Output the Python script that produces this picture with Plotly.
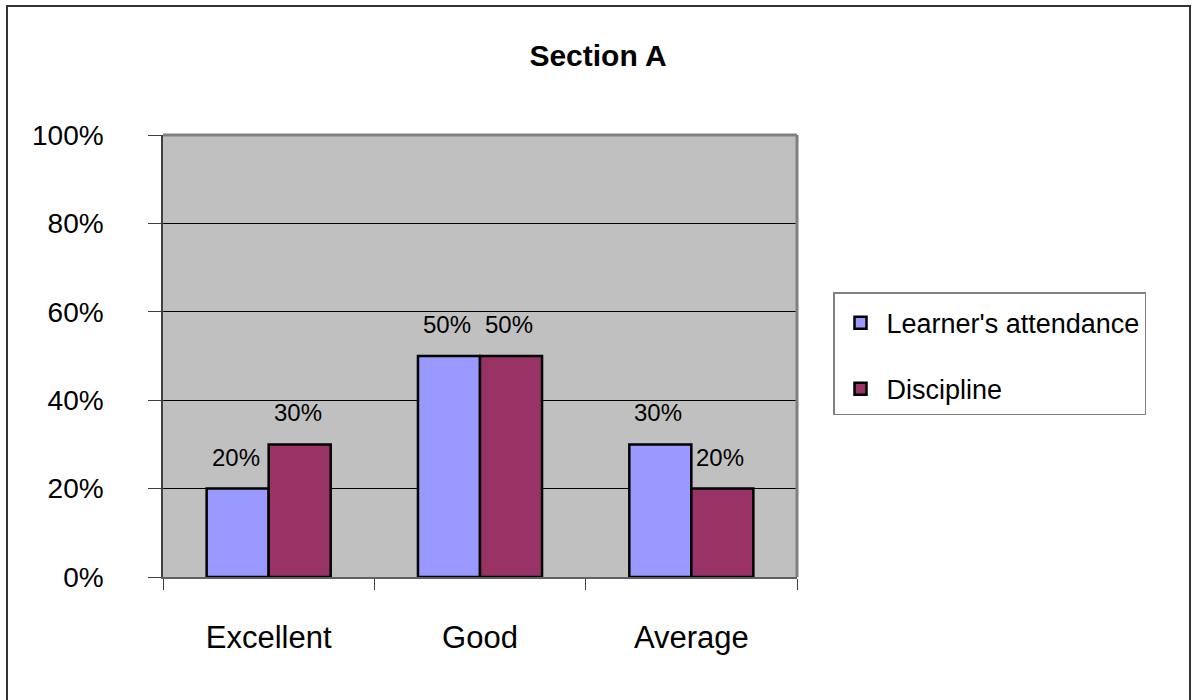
import plotly.graph_objects as go

categories = ["Excellent", "Good", "Average"]
attendance = [0.20, 0.50, 0.30]
discipline = [0.30, 0.50, 0.20]
series_names = ["Learner's attendance", "Discipline"]
y_ticks = [0, 0.2, 0.4, 0.6, 0.8, 1.0]
y_tick_labels = ["0%", "20%", "40%", "60%", "80%", "100%"]

FONT = "Liberation Sans, Arial, sans-serif"
W, H = 1196, 700
L, R, T, B = 163, 399, 135, 123
pw, ph = W - L - R, H - T - B

fig = go.Figure()
fig.add_trace(go.Bar(x=categories, y=attendance, name=series_names[0], legendgroup="a",
                     marker=dict(color="#9999FF", line=dict(color="black", width=2.5))))
fig.add_trace(go.Bar(x=categories, y=discipline, name=series_names[1], legendgroup="b",
                     marker=dict(color="#993366", line=dict(color="black", width=2.5))))

# value labels via annotations anchored to data
bar_w = pw / 3 * (1 - 0.413) / 2
for vals, sh in ((attendance, -bar_w / 2), (discipline, bar_w / 2)):
    for c, v in zip(categories, vals):
        fig.add_annotation(x=c, y=v, xref="x", yref="y", text=f"{round(v*100)}%",
                           showarrow=False, xshift=sh - 2, yshift=16, yanchor="bottom",
                           font=dict(family=FONT, size=24, color="black"))

def px_x(p):
    return (p - L) / pw

def px_y(p):
    return (H - B - p) / ph

shapes = [
    dict(type="rect", xref="paper", yref="paper", x0=px_x(7), x1=px_x(1190),
         y0=px_y(720), y1=px_y(6), line=dict(color="#333333", width=2), layer="below"),
    dict(type="line", xref="paper", yref="paper", x0=0, x1=1, y0=1, y1=1,
         line=dict(color="#808080", width=3)),
    dict(type="line", xref="paper", yref="paper", x0=1, x1=1, y0=0, y1=1,
         line=dict(color="#808080", width=3)),
]

fig.update_layout(
    width=W, height=H,
    margin=dict(l=L, r=R, t=T, b=B, pad=0),
    paper_bgcolor="white", plot_bgcolor="#C0C0C0",
    barmode="group", bargap=0.413, bargroupgap=0,
    title=dict(text="<b>Section A</b>", xref="paper", xanchor="center",
               y=1 - 55 / H, yref="container", yanchor="middle",
               font=dict(family=FONT, size=30, color="black")),
    font=dict(family=FONT, color="black"),
    shapes=shapes,
    showlegend=True,
    legend=dict(x=px_x(833), y=px_y(292), xanchor="left", yanchor="top",
                bgcolor="white", bordercolor="#808080", borderwidth=1.5,
                font=dict(family=FONT, size=27, color="black"),
                title=dict(text=" ", font=dict(size=4)),
                tracegroupgap=28, itemwidth=42),
)
fig.update_layout(title_x=(598 - L) / pw)

fig.update_xaxes(showline=True, linecolor="#606060", linewidth=2,
                 ticks="outside", tickson="boundaries", ticklen=11, tickcolor="#404040",
                 tickfont=dict(family=FONT, size=31, color="black"), ticklabelstandoff=32,
                 showgrid=False)
fig.update_yaxes(range=[0, 1], tickvals=y_ticks, ticktext=y_tick_labels,
                 showline=True, linecolor="#404040", linewidth=1.5,
                 ticks="outside", ticklen=13, tickcolor="#404040",
                 tickfont=dict(family=FONT, size=28, color="black"), ticklabelstandoff=39,
                 showgrid=True, gridcolor="black", gridwidth=1, zeroline=False)

fig.write_html("out.html")
